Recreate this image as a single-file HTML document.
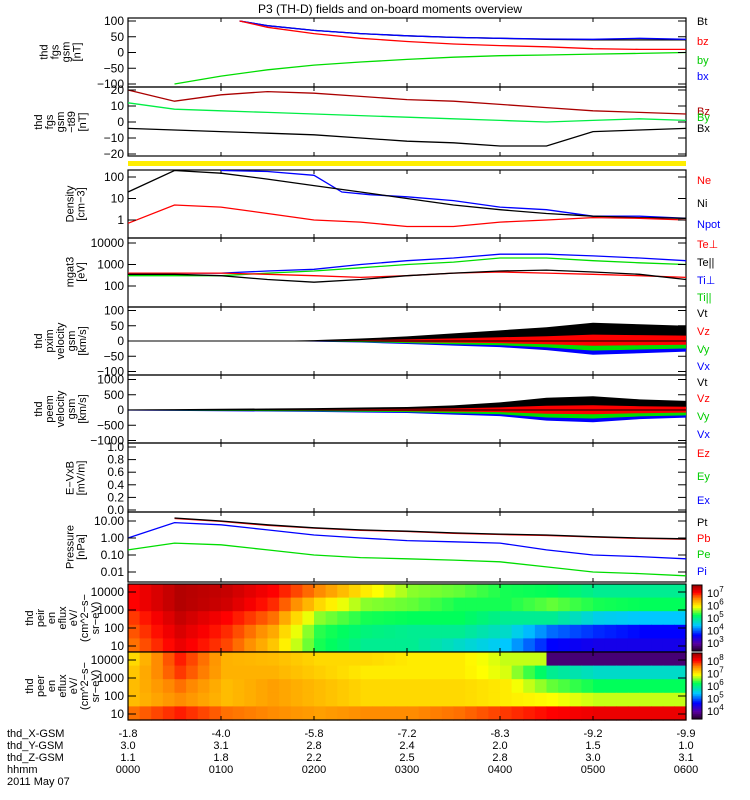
<!DOCTYPE html>
<html><head><meta charset="utf-8"><style>
body{margin:0;background:#fff;}
svg{display:block;font-family:"Liberation Sans",sans-serif;font-size:11px;}
</style></head><body>
<svg id="c" width="750" height="800"></svg>
<script>
const T13=[0,0.5,1,1.5,2,2.5,3,3.5,4,4.5,5,5.5,6];
const fgsT=[1.2,1.5,2,2.5,3,3.5,4,4.5,5,5.5,6];
const fgsBt=[100,85,70,60,53,48,45,42,40,40,40];
const fgsBz=[100,80,60,45,35,27,22,18,12,10,10];
const fgsBx=[100,85,70,60,53,48,45,43,42,45,42];
const byT=[0.5,1,1.5,2,2.5,3,3.5,4,4.5,5,5.5,6];
const fgsBy=[-100,-75,-55,-40,-30,-22,-15,-10,-8,-5,-3,0];
const dBz=[20,13,17,19,18,16,14,13,11,9,7,6,5];
const dBy=[12,8,7,6,5,4,3,2,1,0,1,2,1];
const dBx=[-4,-5,-6,-7,-8,-10,-12,-13,-15,-15,-6,-5,-4];
const Ni=[20,200,150,80,40,20,10,5,3,2,1.5,1.3,1.2];
const NpotT=[1,1.5,2,2.3,2.6,3,3.5,4,4.5,5,5.5,6];
const Npot=[200,180,120,20,15,12,8,4,3,1.5,1.5,1.2];
const Ne=[0.7,5,4,2,1,0.8,0.5,0.5,0.8,1,1.3,1.2,1];
const TePerp=[400,400,400,350,300,250,300,400,450,400,350,300,250];
const TePar=[350,350,300,200,150,200,300,400,500,550,450,350,200];
const TiPerp=[400,400,400,500,600,1000,1500,2000,3000,3000,2500,2000,1500];
const TiPar=[300,300,300,400,500,700,1000,1300,2000,2000,1500,1200,1000];
const vAmp=[0,0,0,0,3,8,15,25,35,45,60,55,50];
const vNeg=[0,0,0,0,2,5,10,15,20,30,45,40,35];
const pAmp=[20,30,40,50,60,80,100,150,250,400,450,350,300];
const pNeg=[20,30,40,50,60,80,100,150,200,350,400,300,250];
const Pt=[null,15,10,6,4,3,2.5,2,1.7,1.5,1.2,1,0.9];
const Pb=[null,14,9.5,5.5,3.8,2.8,2.4,1.9,1.6,1.4,1.15,0.95,0.85];
const Pi=[1,8,6,3,1.5,1,0.7,0.6,0.5,0.2,0.1,0.08,0.06];
const Pe=[0.2,0.5,0.4,0.2,0.1,0.07,0.06,0.05,0.04,0.02,0.01,0.008,0.006];
const peir=[
[0.9,0.98,0.96,0.9,0.8,0.7,0.62,0.6,0.56,0.55,0.5,0.5],
[0.9,0.98,0.95,0.87,0.72,0.62,0.6,0.56,0.56,0.6,0.56,0.55],
[0.86,0.96,0.9,0.82,0.62,0.56,0.55,0.55,0.5,0.5,0.42,0.4],
[0.84,0.94,0.87,0.77,0.57,0.52,0.5,0.5,0.45,0.33,0.28,0.25],
[0.82,0.92,0.85,0.74,0.56,0.5,0.5,0.45,0.4,0.25,0.22,0.22]];
const peer=[
[0.72,0.88,0.76,0.75,0.72,0.72,0.7,0.7,0.65,0.08,0.08,0.08],
[0.74,0.86,0.76,0.76,0.73,0.7,0.7,0.7,0.66,0.5,0.45,0.45],
[0.75,0.82,0.75,0.78,0.75,0.72,0.72,0.72,0.7,0.6,0.55,0.55],
[0.75,0.8,0.75,0.78,0.75,0.72,0.72,0.72,0.7,0.68,0.65,0.65],
[0.82,0.88,0.82,0.8,0.78,0.8,0.8,0.82,0.86,0.9,0.92,0.92]];
const xLbl=["-1.8","-4.0","-5.8","-7.2","-8.3","-9.2","-9.9"];
const yLbl=["3.0","3.1","2.8","2.4","2.0","1.5","1.0"];
const zLbl=["1.1","1.8","2.2","2.5","2.8","3.0","3.1"];
const hLbl=["0000","0100","0200","0300","0400","0500","0600"];

const S=document.getElementById('c');const NS='http://www.w3.org/2000/svg';
function E(tag,at,txt,p){const e=document.createElementNS(NS,tag);for(const k in at)e.setAttribute(k,at[k]);if(txt!=null)e.textContent=txt;(p||S).appendChild(e);return e;}
const X0=128,X1=686;const x=t=>X0+t/6*(X1-X0);
function line(ts,vs,fy,col,name){let d='';ts.forEach((t,i)=>{if(vs[i]==null)return;d+=(d?'L':'M')+x(t).toFixed(1)+','+fy(vs[i]).toFixed(1);});
 const e=E('path',{d:d,fill:'none',stroke:col,'stroke-width':1.3});}
function frame(y0,y1,name){const e=E('rect',{x:X0,y:y0,width:X1-X0,height:y1-y0,fill:'none',stroke:'#000','stroke-width':1.2});
 for(let h=0;h<=6;h++){E('line',{x1:x(h),x2:x(h),y1:y0,y2:y0+4,stroke:'#000'});E('line',{x1:x(h),x2:x(h),y1:y1,y2:y1-4,stroke:'#000'});}}
function yt(vals,fy,labs){vals.forEach((v,i)=>{const y=fy(v);E('line',{x1:X0,x2:X0+8,y1:y,y2:y,stroke:'#000'});E('line',{x1:X1,x2:X1-8,y1:y,y2:y,stroke:'#000'});const t=E('text',{x:X0-4,y:y+4,'text-anchor':'end','font-size':12},labs[i]);});}
function ytitle(lines,cy,name){const g=E('g',{transform:`translate(${cy[0]},${cy[1]}) rotate(-90)`});
 lines.forEach((l,i)=>E('text',{x:0,y:(i-(lines.length-1)/2)*11+4,'text-anchor':'middle','font-size':11},l,g));}
function leg(items){items.forEach(([t,y,c])=>{const e=E('text',{x:697,y:y+4,fill:c,'font-size':11},t);});}
function lg(a,b,c){return v=>a+(b-Math.log10(v))*c;}

const tt=E('text',{x:390,y:13,'text-anchor':'middle','font-size':12},'P3 (TH-D) fields and on-board moments overview');


let f1=v=>21+(100-v)/200*63;frame(18,87,'panel-fgs-gsm');
line(fgsT,fgsBt,f1,'#000','series-bt');line(fgsT,fgsBx,f1,'#0000ff','series-bx');line(fgsT,fgsBz,f1,'#ff0000','series-bz');line(byT,fgsBy,f1,'#00dd00','series-by');
yt([100,50,0,-50,-100],f1,['100','50','0','−50','−100']);ytitle(['thd','fgs','gsm','[nT]'],[60,52],'y-title-fgs');
leg([['Bt',21,'#000'],['bz',41,'#ff0000'],['by',60,'#00cc00'],['bx',76,'#0000ff']]);
let f2=v=>90+(20-v)/40*64;frame(87,156,'panel-fgs-t89');
line(T13,dBz,f2,'#aa0000','series-dbz');line(T13,dBy,f2,'#00ee44','series-dby');line(T13,dBx,f2,'#000','series-dbx');
yt([20,10,0,-10,-20],f2,['20','10','0','−10','−20']);ytitle(['thd','fgs','gsm','−t89','[nT]'],[60,122],'y-title-fgs-t89');
leg([['Bz',111,'#aa0000'],['By',117,'#00cc00'],['Bx',128,'#000']]);
E('rect',{x:X0,y:161,width:X1-X0,height:5,fill:'#ffee00'});
let f4=lg(220,0,21.5);frame(170,238,'panel-density');
line(NpotT,Npot,f4,'#0000ff','series-npot');line(T13,Ni,f4,'#000','series-ni');line(T13,Ne,f4,'#ff0000','series-ne');
yt([100,10,1],f4,['100','10','1']);ytitle(['Density','[cm−3]'],[75,204],'y-title-density');
leg([['Ne',180,'#ff0000'],['Ni',203,'#000'],['Npot',224,'#0000ff']]);
let f5=lg(243,4,21.5);frame(238,307,'panel-temperature');
line(T13,TiPerp,f5,'#0000ff','series-ti-perp');line(T13,TiPar,f5,'#00dd00','series-ti-par');line(T13,TePerp,f5,'#ff0000','series-te-perp');line(T13,TePar,f5,'#000','series-te-par');
yt([10000,1000,100],f5,['10000','1000','100']);ytitle(['mgat3','[eV]'],[75,272],'y-title-temperature');
leg([['Te⊥',244,'#ff0000'],['Te||',262,'#000'],['Ti⊥',280,'#0000ff'],['Ti||',297,'#00cc00']]);
function vel(y0,y1,c,sc,amp,neg,ticks,labs,title,leys,nm){const f=v=>c-v*sc;frame(y0,y1,nm);
 const up=T13.map((t,i)=>x(t)+','+f(amp[i])).join(' '),base=x(6)+','+f(0)+' '+x(0)+','+f(0);
 E('polygon',{points:up+' '+base,fill:'#000'});
 E('polygon',{points:T13.map((t,i)=>x(t)+','+f(-neg[i])).join(' ')+' '+base,fill:'#0000ff'});
 E('polygon',{points:T13.map((t,i)=>x(t)+','+f(-neg[i]*0.7)).join(' ')+' '+base,fill:'#00dd00'});
 E('polygon',{points:T13.map((t,i)=>x(t)+','+f(amp[i]*0.35)).join(' ')+' '+T13.map((t,i)=>x(t)+','+f(-neg[i]*0.35)).reverse().join(' '),fill:'#ff0000'});
 E('line',{x1:X0,x2:X1,y1:f(0),y2:f(0),stroke:'#000'});
 yt(ticks,f,labs);ytitle(title,[60,(y0+y1)/2],'y-title-'+nm);
 leg([['Vt',leys[0],'#000'],['Vz',leys[1],'#ff0000'],['Vy',leys[2],'#00cc00'],['Vx',leys[3],'#0000ff']]);}
vel(307,375,341,0.305,vAmp,vNeg,[100,50,0,-50,-100],['100','50','0','−50','−100'],['thd','pxim','velocity','gsm','[km/s]'],[313,331,349,366],'panel-pxim-velocity');
vel(375,443,410,0.0305,pAmp,pNeg,[1000,500,0,-500,-1000],['1000','500','0','−500','−1000'],['thd','peem','velocity','gsm','[km/s]'],[382,398,416,434],'panel-peem-velocity');
let f8=v=>510-v*63;frame(443,512,'panel-e-vxb');
yt([1,0.8,0.6,0.4,0.2,0],f8,['1.0','0.8','0.6','0.4','0.2','0.0']);ytitle(['E−VxB','[mV/m]'],[75,478],'y-title-e');
leg([['Ez',453,'#ff0000'],['Ey',476,'#00cc00'],['Ex',500,'#0000ff']]);
let f9=lg(538,0,17);frame(512,582,'panel-pressure');
line(T13,Pe,f9,'#00dd00','series-pe');line(T13,Pi,f9,'#0000ff','series-pi');line(T13,Pb,f9,'#ff0000','series-pb');line(T13,Pt,f9,'#000','series-pt');
yt([10,1,0.1,0.01],f9,['10.00','1.00','0.10','0.01']);ytitle(['Pressure','[nPa]'],[75,547],'y-title-pressure');
leg([['Pt',522,'#000'],['Pb',538,'#ff0000'],['Pe',554,'#00cc00'],['Pi',571,'#0000ff']]);
const stops=[[0,[30,0,30]],[0.12,[90,0,160]],[0.25,[0,0,255]],[0.4,[0,200,255]],[0.55,[0,255,90]],[0.68,[255,255,0]],[0.8,[255,140,0]],[0.9,[255,0,0]],[1,[160,0,0]]];
function cm(v){for(let i=1;i<stops.length;i++){if(v<=stops[i][0]){const a=stops[i-1],b=stops[i],k=(v-a[0])/(b[0]-a[0]);return 'rgb('+a[1].map((c,j)=>Math.round(c+(b[1][j]-c)*k)).join(',')+')';}}return 'rgb(160,0,0)';}
function spec(y0,y1,grid,nm,title,cbLabs){const nr=grid.length,nc=grid[0].length,h=(y1-y0)/nr,w=(X1-X0)/nc,SUB=4;
 grid.forEach((row,r)=>row.forEach((v,c)=>{for(let s=0;s<SUB;s++){const nxt=c+1<nc?row[c+1]:v;const fr=s/SUB;const vv=c+1<nc&&Math.abs(nxt-v)<0.3?v+(nxt-v)*fr:v;
  const e=E('rect',{x:X0+c*w+s*w/SUB,y:y0+r*h,width:w/SUB+0.6,height:h+0.6,fill:cm(vv)});}}));
 frame(y0,y1,nm);const f=lg(y1-6,1,(y1-y0-14)/3);yt([10000,1000,100,10],f,['10000','1000','100','10']);
 ytitle(title,[62,(y0+y1)/2],'y-title-'+nm);
 for(let i=0;i<40;i++)E('rect',{x:692,y:y0+i*(y1-y0-2)/40+1,width:10,height:(y1-y0)/40+0.5,fill:cm(1-i/40)});
 E('rect',{x:692,y:y0+1,width:10,height:y1-y0-2,fill:'none',stroke:'#000'});
 cbLabs.forEach((l,i)=>{const y=y0+9+i*(y1-y0-18)/(cbLabs.length-1);const tg=E('text',{x:707,y:y+4,'font-size':11},'10');E('tspan',{dy:-5,'font-size':8},l,tg);});}
spec(584,652,peir,'panel-peir-spectrogram',['thd','peir','en','eflux','eV/','(cm^2−s−','sr−eV)'],['7','6','5','4','3']);
spec(652,720,peer,'panel-peer-spectrogram',['thd','peer','en','eflux','eV/','(cm^2−s−','sr−eV)'],['8','7','6','5','4']);
const rows=[['thd_X-GSM',xLbl],['thd_Y-GSM',yLbl],['thd_Z-GSM',zLbl],['hhmm',hLbl]];
rows.forEach(([n,l],r)=>{const y=737+r*12;const t=E('text',{x:7,y:y,'font-size':11},n);
 l.forEach((s,i)=>{const e=E('text',{x:x(i),y:y,'text-anchor':'middle','font-size':11},s);});});
const d=E('text',{x:7,y:785,'font-size':11},'2011 May 07');
</script></body></html>
